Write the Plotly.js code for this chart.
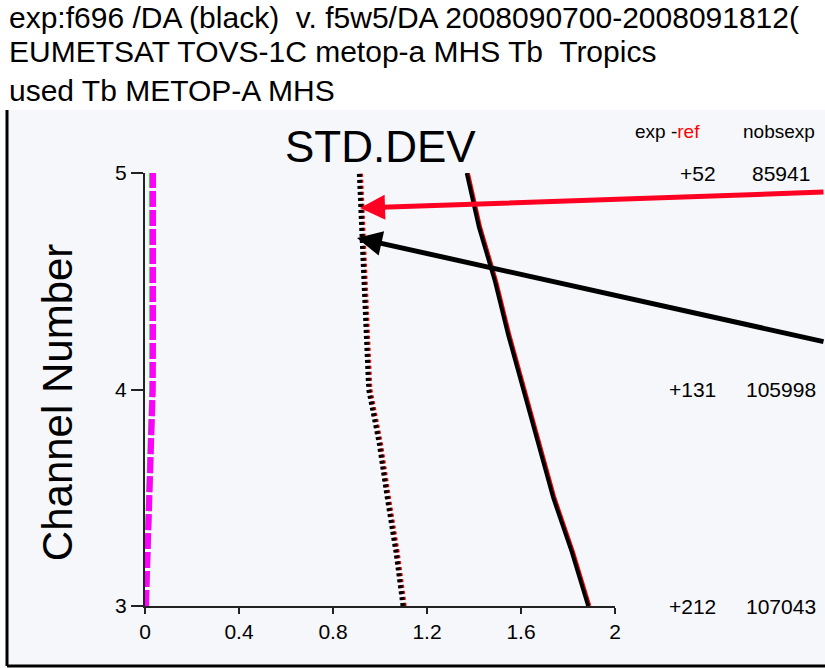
<!DOCTYPE html>
<html>
<head>
<meta charset="utf-8">
<script src="https://cdn.plot.ly/plotly-3.0.1.min.js"></script>
<style>html,body{margin:0;padding:0;background:#fff;}#chart{width:825px;height:668px;}</style>
</head>
<body>
<div id="chart"></div>
<script>
// Channel positions along the curves (y axis)
const channels = [3, 3.25, 3.5, 3.75, 4, 4.25, 4.5, 4.75, 5];
// STD.DEV values
const obsExp = [1.098, 1.068, 1.031, 0.997, 0.952, 0.942, 0.933, 0.922, 0.912];   // black dotted
const obsRef = [1.103, 1.073, 1.036, 1.002, 0.957, 0.947, 0.938, 0.927, 0.917];   // red dotted
const fgExp  = [1.886, 1.816, 1.737, 1.674, 1.610, 1.546, 1.489, 1.421, 1.369];   // black solid
const fgRef  = [1.891, 1.821, 1.742, 1.679, 1.615, 1.551, 1.494, 1.426, 1.374];   // red solid
const anExp  = [0.004, 0.011, 0.017, 0.028, 0.033, 0.034, 0.034, 0.034, 0.034];   // magenta dashed
const anRef  = [0.003, 0.009, 0.016, 0.026, 0.031, 0.031, 0.030, 0.030, 0.030];   // green dashed
// Right-hand table
const tableChannels = [5, 4, 3];
const expMinusRef = ["+52", "+131", "+212"];
const nobsExp = ["85941", "105998", "107043"];
// Header lines
const headerLines = [
  "exp:f696 /DA (black)  v. f5w5/DA 2008090700-2008091812(",
  "EUMETSAT TOVS-1C metop-a MHS Tb  Tropics",
  "used Tb METOP-A MHS"
];
// Tick labels
const xTickVals = [0, 0.4, 0.8, 1.2, 1.6, 2];
const xTickText = ["0", "0.4", "0.8", "1.2", "1.6", "2"];
const yTickVals = [3, 4, 5];
const yTickText = ["3", "4", "5"];

const FONT = "'Liberation Sans', Arial, Helvetica, sans-serif";

const traces = [
  {x: anRef, y: channels, mode: "lines", line: {color: "#22dd22", width: 6, dash: "16px,3px"}},
  {x: anExp, y: channels, mode: "lines", line: {color: "#ff00ff", width: 6, dash: "16px,3px"}},
  {x: obsRef, y: channels, mode: "lines", line: {color: "#ff0000", width: 5, dash: "3px,3px"}},
  {x: obsExp, y: channels, mode: "lines", line: {color: "#000000", width: 5, dash: "3px,3px"}},
  {x: fgRef, y: channels, mode: "lines", line: {color: "#ff0000", width: 4}},
  {x: fgExp, y: channels, mode: "lines", line: {color: "#000000", width: 4}}
];

const headerY = [1.3995, 1.3199, 1.2300];
const annotations = [
  {xref: "paper", yref: "paper", x: 0.5, y: 1.062, xanchor: "center", yanchor: "middle",
   text: "STD.DEV", showarrow: false, font: {family: FONT, size: 44, color: "#000"}},
  {xref: "paper", yref: "paper", x: -0.187, y: 0.471, xanchor: "center", yanchor: "middle", textangle: -90,
   text: "Channel Number", showarrow: false, font: {family: FONT, size: 42, color: "#000"}},
  {xref: "paper", yref: "paper", x: 1.038, y: 1.095, xanchor: "left", yanchor: "middle",
   text: "exp -<span style='fill:#ff0000'>ref</span>", showarrow: false, font: {family: FONT, size: 19, color: "#000"}},
  {xref: "paper", yref: "paper", x: 1.268, y: 1.095, xanchor: "left", yanchor: "middle",
   text: "nobsexp", showarrow: false, font: {family: FONT, size: 19, color: "#000"}},
  // arrows
  {xref: "x", yref: "y", x: 0.915, y: 4.838, ax: 472, ay: -16, text: "", showarrow: true,
   arrowhead: 2, arrowsize: 1, arrowwidth: 5, arrowcolor: "#ff0022", standoff: 0},
  {xref: "x", yref: "y", x: 0.902, y: 4.700, ax: 475, ay: 104, text: "", showarrow: true,
   arrowhead: 2, arrowsize: 1, arrowwidth: 5, arrowcolor: "#000000", standoff: 0}
];
for (let i = 0; i < headerLines.length; i++) {
  annotations.push({xref: "paper", yref: "paper", x: -0.291, y: headerY[i], xanchor: "left", yanchor: "top",
    text: headerLines[i], showarrow: false, borderpad: 0, font: {family: FONT, size: 30, color: "#000"}});
}
for (let i = 0; i < tableChannels.length; i++) {
  annotations.push({xref: "paper", yref: "y", x: 1.219, y: tableChannels[i], xanchor: "right", yanchor: "middle",
    text: expMinusRef[i], showarrow: false, font: {family: FONT, size: 21, color: "#000"}});
  annotations.push({xref: "paper", yref: "y", x: 1.353, y: tableChannels[i], xanchor: "center", yanchor: "middle",
    text: nobsExp[i], showarrow: false, font: {family: FONT, size: 21, color: "#000"}});
}

const BG = "#f5f7fa";
const layout = {
  width: 825, height: 668,
  margin: {l: 145, r: 210, t: 173, b: 62, pad: 0},
  paper_bgcolor: "#ffffff",
  plot_bgcolor: BG,
  showlegend: false,
  xaxis: {
    range: [0, 2], showgrid: false, zeroline: false, showline: true, linecolor: "#222", linewidth: 2,
    ticks: "outside", ticklen: 6, tickwidth: 2, tickcolor: "#222",
    tickvals: xTickVals, ticktext: xTickText,
    tickfont: {family: FONT, size: 21, color: "#000"}
  },
  yaxis: {
    range: [3, 5], showgrid: false, zeroline: false, showline: true, linecolor: "#222", linewidth: 2,
    ticks: "outside", ticklen: 12, tickwidth: 2, tickcolor: "#222",
    tickvals: yTickVals, ticktext: yTickText,
    tickfont: {family: FONT, size: 21, color: "#000"}
  },
  shapes: [
    {type: "rect", xref: "paper", yref: "paper", x0: -0.2936, x1: 1.46, y0: -0.1386, y1: 1.1455,
     fillcolor: BG, line: {width: 0}, layer: "below"},
    {type: "line", xref: "paper", yref: "paper", x0: -0.2936, x1: -0.2936, y0: -0.1386, y1: 1.1455,
     line: {color: "#000", width: 3}},
    {type: "line", xref: "paper", yref: "paper", x0: -0.2936, x1: 1.46, y0: -0.1386, y1: -0.1386,
     line: {color: "#000", width: 3}}
  ],
  annotations: annotations
};

Plotly.newPlot("chart", traces, layout, {displayModeBar: false, staticPlot: true});
</script>
</body>
</html>
